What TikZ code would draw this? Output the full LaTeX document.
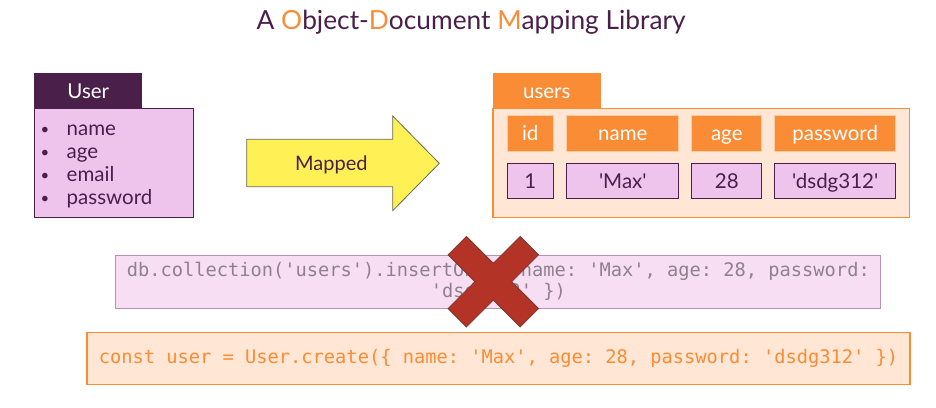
\documentclass[tikz,border=0pt]{standalone}
\usepackage{fontspec}
\setmainfont{Lato}[Ligatures=TeXOff]
\setmonofont{DejaVu Sans Mono}
\definecolor{dpurple}{HTML}{4A1F4A}
\definecolor{orng}{HTML}{FA8C35}
\definecolor{lpurple}{HTML}{EEC3EC}
\definecolor{lorange}{HTML}{FFE6D5}
\definecolor{yel}{HTML}{FFF056}
\definecolor{xred}{HTML}{B33326}
\definecolor{xedge}{HTML}{7A3A32}
\definecolor{dbfill}{HTML}{F7DEF3}
\definecolor{dbdraw}{HTML}{B593B5}
\definecolor{dbtext}{HTML}{8F818F}
\definecolor{arrowedge}{HTML}{6B6B50}
\begin{document}
\begin{tikzpicture}[x=1pt,y=-1pt,
  box/.style={rectangle, inner sep=0pt, line width=1.2pt},
  txt/.style={font=\fontsize{20.5}{22}\selectfont, text height=19, text depth=4},
  hdrbox/.style={box, txt, text=white},
  colhdr/.style={box, txt, fill=orng, draw=orng!45!white, line width=1pt, text=white, minimum height=36},
  valcell/.style={box, txt, fill=lpurple, draw=dpurple, line width=1pt, text=dpurple, minimum height=35},
  item/.style={anchor=base west, inner sep=0pt, text=dpurple, font=\fontsize{20.5}{22}\selectfont},
  bullet/.style={anchor=base, inner sep=0pt, text=dpurple, font=\fontsize{15}{16}\selectfont},
  code/.style={box, font=\ttfamily\fontsize{18.7}{21.5}\selectfont, align=center}
]
\useasboundingbox (0,0) rectangle (936,407);

% title
\node[anchor=base, inner sep=0pt, text=dpurple, font=\fontsize{26.3}{28}\selectfont] (title) at (471.2,29.3)
  {A \textcolor{orng}{O}bject-\textcolor{orng}{D}ocument \textcolor{orng}{M}apping Library};

% User class
\node[box, fill=lpurple, draw=dpurple, minimum width=159, minimum height=109.4] (userbody) at (113.8,163) {};
\node[hdrbox, fill=dpurple, minimum width=108, minimum height=35.6] (userhdr) at (88.3,90.5) {User};
\node[bullet] (b1) at (45,134) {•};
\node[bullet] (b2) at (45,157) {•};
\node[bullet] (b3) at (45,180) {•};
\node[bullet] (b4) at (45,203) {•};
\node[item] (i1) at (66.5,135) {name};
\node[item] (i2) at (66.5,158) {age};
\node[item] (i3) at (66.5,181) {email};
\node[item] (i4) at (66.5,204) {password};

% Mapped arrow
\draw[fill=yel, draw=arrowedge, line width=0.8pt]
  (246.7,139.3) -- (392.7,139.3) -- (392.7,116) -- (439.3,163.3) -- (392.7,210.7) -- (392.7,186.7) -- (246.7,186.7) -- cycle;
\node[inner sep=0pt, text=dpurple, font=\fontsize{20}{22}\selectfont, text height=18, text depth=4] (mapped) at (331.3,163) {Mapped};

% users table
\node[box, fill=lorange, draw=orng, minimum width=416.7, minimum height=109] (usersbody) at (701.35,162.8) {};
\node[hdrbox, fill=orng, minimum width=107.7, minimum height=35] (usershdr) at (546.8,90.8) {users};
\node[colhdr, minimum width=46.3] (hid) at (530.2,133) {id};
\node[colhdr, minimum width=111.7] (hname) at (622.8,133) {name};
\node[colhdr, minimum width=69.7] (hage) at (726.8,133) {age};
\node[colhdr, minimum width=121] (hpw) at (835.2,133) {password};
\node[valcell, minimum width=46.3] (vid) at (530.2,180.8) {1};
\node[valcell, minimum width=111.7] (vname) at (622.8,180.8) {'Max'};
\node[valcell, minimum width=69.7] (vage) at (726.8,180.8) {28};
\node[valcell, minimum width=121] (vpw) at (835.2,180.8) {'dsdg312'};

% code boxes
\node[code, fill=dbfill, draw=dbdraw, line width=1pt, text=dbtext, minimum width=764.7, minimum height=52.6] (dbcode) at (498.3,282)
  {db.collection('users').insertOne(\{ name: 'Max', age: 28, password:\\'dsdg312' \})};
\node[code, fill=lorange, draw=orng, line width=1.2pt, text=orng, minimum width=823, minimum height=52] (constcode) at (498.5,358.3)
  {const user = User.create(\{ name: 'Max', age: 28, password: 'dsdg312' \})};

% red cross
\begin{scope}[shift={(493.3,281.7)}]
\draw[fill=xred, draw=xedge, line width=0.8pt]
  (0,-18.38) -- (26.87,-45.25) -- (45.25,-26.87) -- (18.38,0) -- (45.25,26.87) -- (26.87,45.25)
  -- (0,18.38) -- (-26.87,45.25) -- (-45.25,26.87) -- (-18.38,0) -- (-45.25,-26.87) -- (-26.87,-45.25) -- cycle;
\end{scope}
\end{tikzpicture}
\end{document}
